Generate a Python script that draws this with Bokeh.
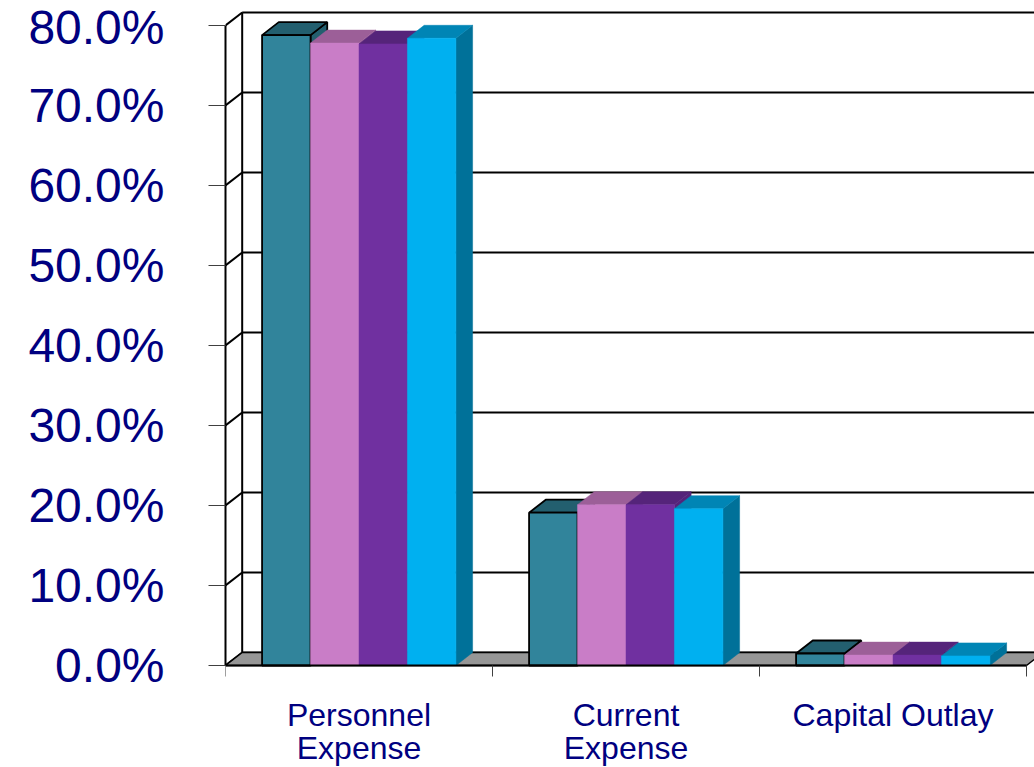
from bokeh.plotting import figure
from bokeh.models import Range1d, FixedTicker, ColumnDataSource
from bokeh.core.properties import value
from bokeh.embed import file_html
from bokeh.resources import INLINE

# ---------------- data ----------------
categories = ["Personnel\nExpense", "Current\nExpense", "Capital Outlay"]
series_names = ["Series 1", "Series 2", "Series 3", "Series 4"]
series_1 = [78.8, 19.1, 1.5]
series_2 = [77.8, 20.1, 1.3]
series_3 = [77.7, 20.1, 1.3]
series_4 = [78.4, 19.6, 1.2]
y_ticks = [0, 10, 20, 30, 40, 50, 60, 70, 80]
y_tick_labels = ["0.0%", "10.0%", "20.0%", "30.0%", "40.0%", "50.0%", "60.0%", "70.0%", "80.0%"]

# ---------------- style ----------------
front_colors = ["#31849B", "#C97DC7", "#7030A0", "#00B0F0"]
top_colors = ["#235F6F", "#9C5F98", "#55247A", "#0085B5"]
side_colors = ["#235F6F", "#9C5F98", "#55247A", "#007199"]
label_color = "#000080"
DX, DY = 0.0625, 1.625          # depth offset (category units, percent units)
BW = 0.1815                      # bar width in category units
N = len(categories)
YMAX = y_ticks[-1]
W, H = 1034, 767
LEFT = 225                       # frame left (px)
PX_X = 267.0                     # px per category
PX_Y = 8.0                       # px per percent
ZERO = 665                       # px of 0 %

p = figure(width=W, height=H,
           x_range=Range1d(0, (W - LEFT) / PX_X),
           y_range=Range1d(-(H - ZERO) / PX_Y, ZERO / PX_Y),
           output_backend="svg", toolbar_location=None,
           min_border_left=LEFT, min_border_right=0,
           min_border_top=0, min_border_bottom=0)
p.xaxis.visible = False
p.xgrid.visible = False
p.ygrid.visible = False
p.outline_line_color = None
p.background_fill_color = "white"

# y axis (front)
ya = p.yaxis[0]
ya.ticker = FixedTicker(ticks=y_ticks)
ya.major_label_overrides = {t: l for t, l in zip(y_ticks, y_tick_labels)}
ya.bounds = (0, YMAX)
ya.axis_line_color = "black"
ya.axis_line_width = 2
ya.major_tick_out = 17
ya.major_tick_in = 0
ya.major_tick_line_color = "#404040"
ya.major_tick_line_width = 1
ya.minor_tick_out = 0
ya.minor_tick_in = 0
ya.major_label_standoff = 44
ya.major_label_text_font = "Liberation Sans"
ya.major_label_text_font_size = "48px"
ya.major_label_text_font_style = "normal"
ya.major_label_text_color = label_color

# back wall grid lines
p.multi_line(xs=[[DX, N + DX] for _ in y_ticks],
             ys=[[v + DY, v + DY] for v in y_ticks],
             line_color="black", line_width=2)
# side wall diagonals
p.multi_line(xs=[[0, DX] for _ in y_ticks],
             ys=[[v, v + DY] for v in y_ticks],
             line_color="black", line_width=2)
# back-left wall edge
p.line(x=[DX, DX], y=[DY, YMAX + DY], line_color="black", line_width=2)
# floor
p.patch(x=[0, N, N + DX, DX], y=[0, 0, DY, DY],
        fill_color="#969696", line_color="black", line_width=1.5)

# bars
all_series = [series_1, series_2, series_3, series_4]
offset = (1 - len(all_series) * BW) / 2
for s, vals in enumerate(all_series):
    fx, fy, tx, ty, sx, sy = [], [], [], [], [], []
    for c, v in enumerate(vals):
        x0 = c + offset + s * BW
        x1 = x0 + BW
        fx.append([x0, x1, x1, x0]); fy.append([0, 0, v, v])
        tx.append([x0, x1, x1 + DX, x0 + DX]); ty.append([v, v, v + DY, v + DY])
        sx.append([x1, x1 + DX, x1 + DX, x1]); sy.append([0, DY, v + DY, v])
    outlined = (s == 0)
    for xs, ys, col in ((sx, sy, side_colors[s]), (tx, ty, top_colors[s]), (fx, fy, front_colors[s])):
        p.patches(xs=xs, ys=ys, fill_color=col,
                  line_color=("black" if outlined else col),
                  line_width=(1.8 if outlined else 0.5))

# front floor edge (x axis line) and category tick marks
p.line(x=[0, N], y=[0, 0], line_color="black", line_width=2)
p.multi_line(xs=[[i, i] for i in range(N + 1)],
             ys=[[0, -11 / PX_Y] for _ in range(N + 1)],
             line_color="#404040", line_width=1)

# category labels
lx, ly, lt = [], [], []
for c, name in enumerate(categories):
    for k, line in enumerate(name.split("\n")):
        lx.append(c + 0.5)
        ly.append(-(714 - ZERO) / PX_Y - k * 33 / PX_Y)
        lt.append(line)
p.text(x="x", y="y", text="t", source=ColumnDataSource(dict(x=lx, y=ly, t=lt)),
       text_font=value("Liberation Sans"), text_font_size="32px",
       text_color=label_color, text_align="center", text_baseline="alphabetic")

open("out.html", "w").write(file_html(p, INLINE))
